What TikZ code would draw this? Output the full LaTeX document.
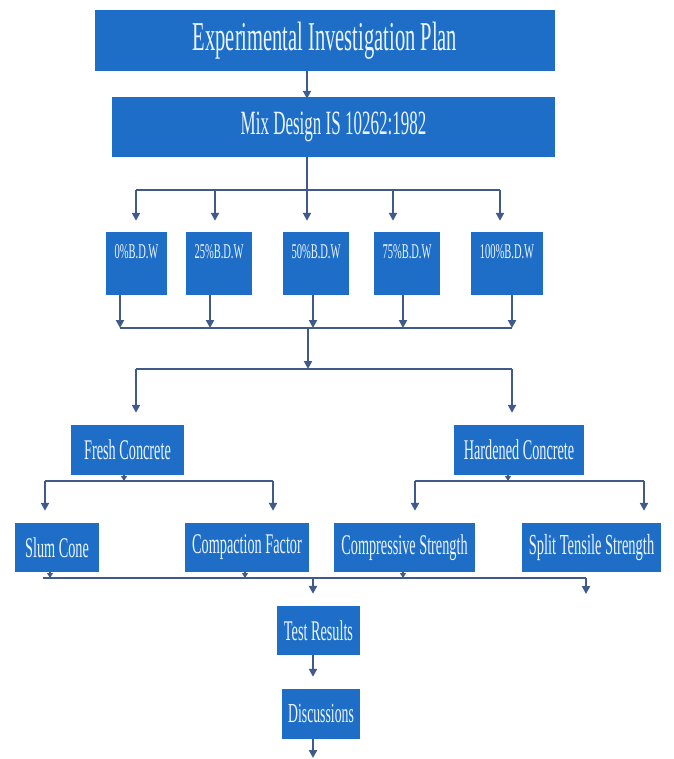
\documentclass[tikz,border=0pt]{standalone}
\usepackage{fontspec}
\usetikzlibrary{arrows.meta}
\newfontfamily\nf[FakeStretch=0.5]{Liberation Serif}
\definecolor{boxblue}{RGB}{30,110,200}
\definecolor{arrcol}{RGB}{65,90,140}
\definecolor{txtcol}{RGB}{235,245,255}
\tikzset{
  bx/.style={fill=boxblue, draw=none, inner sep=0pt, text=txtcol, align=center},
  fs/.style={font=\nf\fontsize{#1}{#1}\selectfont},
  bus/.style={draw=arrcol, line width=2pt},
  arr/.style={draw=arrcol, line width=2.5pt, -{Triangle[width=8pt,length=8pt]}},
  tick/.style={draw=arrcol, line width=2pt, -{Triangle[width=6pt,length=5pt]}},
}
\begin{document}
\begin{tikzpicture}[x=1pt,y=-1pt]
\useasboundingbox[fill=white] (0,0) rectangle (673,759);
% boxes
\node[bx, fs=41, minimum width=460, minimum height=61] (b1) at (325,40.5) {Experimental Investigation Plan};
\node[bx, fs=34, minimum width=443, minimum height=60] (b2) at (333.5,127) {Mix Design IS 10262:1982};
\foreach \n/\x/\w/\t in {p0/136.5/61/0\%B.D.W, p25/219/66/25\%B.D.W, p50/316/66/50\%B.D.W, p75/407/66/75\%B.D.W, p100/507/72/100\%B.D.W}
  \node[bx, fs=21, minimum width=\w, text height=26, text depth=37] (\n) at (\x,263.5) {\t};
\node[bx, fs=28.5, minimum width=113, minimum height=50] (fresh) at (127.5,450) {Fresh Concrete};
\node[bx, fs=28.5, minimum width=130, minimum height=50] (hard) at (519,450) {Hardened Concrete};
\node[bx, fs=28.5, minimum width=84, minimum height=49] (slum) at (57,547.5) {Slum Cone};
\node[bx, fs=28.5, minimum width=124, minimum height=49] (comp) at (247,547.5) {Compaction Factor};
\node[bx, fs=28.5, minimum width=141, minimum height=49] (cstr) at (404.5,547.5) {Compressive Strength};
\node[bx, fs=29, minimum width=139, minimum height=49] (split) at (591.5,547.5) {Split Tensile Strength};
\node[bx, fs=28.5, minimum width=83, minimum height=49] (test) at (318.5,630.5) {Test Results};
\node[bx, fs=27.5, minimum width=78, minimum height=50] (disc) at (321,714) {Discussions};
% coordinates
\coordinate (s1) at (307,0);
\foreach \i/\x in {0/136,1/215,2/307,3/393,4/500} \coordinate (a\i) at (\x,190);
\foreach \i/\x in {0/120,1/210,2/313,3/403,4/512} \coordinate (c\i) at (\x,328);
\coordinate (d) at (308,328);
\coordinate (d2) at (308,369);
\coordinate (e0) at (136,369);
\coordinate (e1) at (512,369);
\coordinate (f0) at (45,481);
\coordinate (f1) at (273,481);
\coordinate (fm) at (124,481);
\coordinate (h0) at (415,481);
\coordinate (h1) at (644,481);
\coordinate (hm) at (508,481);
\coordinate (g0) at (43,578);
\coordinate (gs) at (50,578);
\coordinate (gc) at (245,578);
\coordinate (gt) at (313,578);
\coordinate (gr) at (403,578);
\coordinate (g4) at (586,578);
\coordinate (gd) at (586,594);
\coordinate (fin) at (313,758);
% connectors
\draw[arr] (b1.south -| s1) -- ([yshift=-2]b2.north -| s1);
\draw[bus] (b2.south -| a2) -- (a2);
\draw[bus] (a0) -- (a4);
\draw[arr, shorten >=11pt] (a0) -- (a0 |- p0.north);
\draw[arr, shorten >=11pt] (a1) -- (a1 |- p25.north);
\draw[arr, shorten >=11pt] (a2) -- (a2 |- p50.north);
\draw[arr, shorten >=11pt] (a3) -- (a3 |- p75.north);
\draw[arr, shorten >=11pt] (a4) -- (a4 |- p100.north);
\draw[arr] (p0.south -| c0) -- (c0);
\draw[arr] (p25.south -| c1) -- (c1);
\draw[arr] (p50.south -| c2) -- (c2);
\draw[arr] (p75.south -| c3) -- (c3);
\draw[arr] (p100.south -| c4) -- (c4);
\draw[bus] (c0) -- (c4);
\draw[arr] (d) -- (d2);
\draw[bus] (e0) -- (e1);
\draw[arr, shorten >=12pt] (e0) -- (e0 |- fresh.north);
\draw[arr, shorten >=12pt] (e1) -- (e1 |- hard.north);
\draw[tick] (fresh.south -| fm) -- (fm);
\draw[bus] (f0) -- (f1);
\draw[arr, shorten >=12pt] (f0) -- (f0 |- slum.north);
\draw[arr, shorten >=12pt] (f1) -- (f1 |- comp.north);
\draw[tick] (hard.south -| hm) -- (hm);
\draw[bus] (h0) -- (h1);
\draw[arr, shorten >=12pt] (h0) -- (h0 |- cstr.north);
\draw[arr, shorten >=12pt] (h1) -- (h1 |- split.north);
\draw[tick] (slum.south -| gs) -- (gs);
\draw[tick] (comp.south -| gc) -- (gc);
\draw[tick] (cstr.south -| gr) -- (gr);
\draw[bus] (g0) -- (g4);
\draw[arr] (g4) -- (gd);
\draw[arr, shorten >=12pt] (gt) -- (gt |- test.north);
\draw[arr, shorten >=12pt] (test.south -| gt) -- (disc.north -| gt);
\draw[arr] (disc.south -| fin) -- (fin);
\end{tikzpicture}
\end{document}
